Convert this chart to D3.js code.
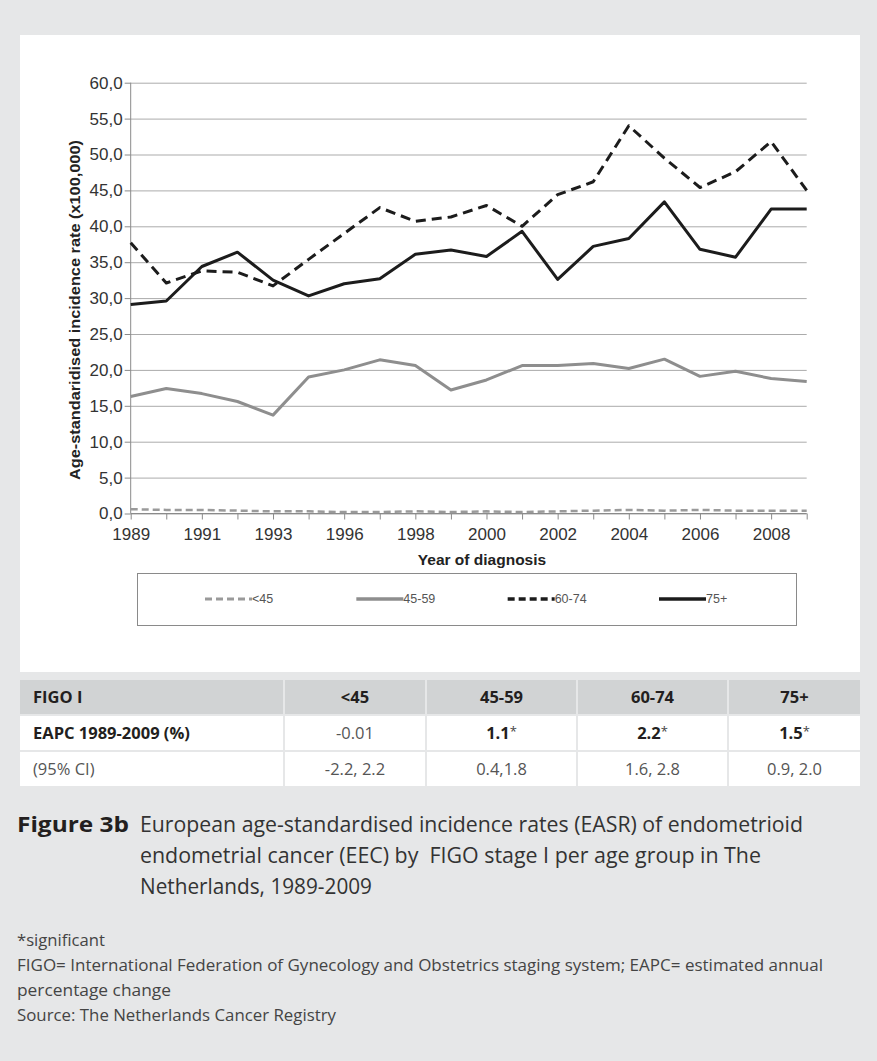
<!DOCTYPE html>
<html>
<head>
<meta charset="utf-8">
<script src="https://cdn.jsdelivr.net/npm/d3@7"></script>
<style>
  body { margin: 0; background: #e6e7e8; }
  svg { display: block; }
  .axis path { display: none; }
  .axis line { stroke: #8a8a8a; }
  .grid line { stroke: #ababab; }
  .grid path { display: none; }
</style>
</head>
<body>
<div id="chart"></div>
<script>
// data
var years = ["1989", "1990", "1991", "1992", "1993", "1994", "1996", "1997", "1998", "1999",
             "2000", "2001", "2002", "2003", "2004", "2005", "2006", "2007", "2008", "2009"];
var under45 = [0.6, 0.5, 0.5, 0.4, 0.3, 0.3, 0.2, 0.2, 0.3, 0.2, 0.3, 0.2, 0.3, 0.4, 0.5, 0.4, 0.5, 0.4, 0.4, 0.4];
var age4559 = [16.3, 17.4, 16.7, 15.6, 13.7, 19.0, 20.0, 21.4, 20.6, 17.2, 18.6, 20.6, 20.6, 20.9, 20.2, 21.5, 19.1, 19.8, 18.8, 18.4];
var age6074 = [37.7, 32.1, 33.8, 33.6, 31.7, 35.4, 39.0, 42.6, 40.7, 41.3, 42.9, 40.0, 44.4, 46.2, 54.0, 49.5, 45.4, 47.6, 51.8, 45.0];
var age75 = [29.1, 29.6, 34.4, 36.4, 32.5, 30.3, 32.0, 32.7, 36.1, 36.7, 35.8, 39.3, 32.6, 37.2, 38.3, 43.4, 36.8, 35.7, 42.4, 42.4];
var seriesNames = ["<45", "45-59", "60-74", "75+"];
var yTicks = [0, 5, 10, 15, 20, 25, 30, 35, 40, 45, 50, 55, 60];

var tableHead = ["FIGO I", "<45", "45-59", "60-74", "75+"];
var eapcLabel = "EAPC 1989-2009 (%)";
var eapc = ["-0.01", "1.1", "2.2", "1.5"];
var eapcSignificant = [false, true, true, true];
var ciLabel = "(95% CI)";
var ci = ["-2.2, 2.2", "0.4,1.8", "1.6, 2.8", "0.9, 2.0"];

var captionHead = "Figure 3b";
var captionLines = [
  "European age-standardised incidence rates (EASR) of endometrioid",
  "endometrial cancer (EEC) by  FIGO stage I per age group in The",
  "Netherlands, 1989-2009"
];
var notes = [
  "*significant",
  "FIGO= International Federation of Gynecology and Obstetrics staging system; EAPC= estimated annual",
  "percentage change",
  "Source: The Netherlands Cancer Registry"
];

var width = 877, height = 1061;
var plot = { left: 130.7, right: 806.7, top: 82.7, bottom: 513.5 };

var svg = d3.select("#chart").append("svg")
  .attr("width", width)
  .attr("height", height);

svg.append("rect").attr("width", width).attr("height", height).attr("fill", "#e6e7e8");
svg.append("rect").attr("x", 20).attr("y", 35).attr("width", 840).attr("height", 637).attr("fill", "#fff");

var x = d3.scalePoint().domain(years).range([plot.left, plot.right]);
var y = d3.scaleLinear().domain([0, 60]).range([plot.bottom, plot.top]);

// gridlines
svg.append("g")
  .attr("class", "grid")
  .attr("transform", "translate(" + plot.left + ",0)")
  .call(d3.axisLeft(y).tickValues(yTicks).tickSize(-(plot.right - plot.left)).tickFormat(""));

// y axis
var fmt = function(d) { return d3.format(".1f")(d).replace(".", ","); };
var yAxis = svg.append("g")
  .attr("class", "axis")
  .attr("transform", "translate(" + plot.left + ",0)")
  .call(d3.axisLeft(y).tickValues(yTicks).tickSize(6).tickPadding(2).tickFormat(fmt));
yAxis.selectAll("text")
  .attr("font-family", "Liberation Sans, Arial, sans-serif")
  .attr("font-size", 17)
  .attr("fill", "#333");

svg.append("line")
  .attr("x1", plot.left).attr("x2", plot.left)
  .attr("y1", plot.top).attr("y2", plot.bottom)
  .attr("stroke", "#8a8a8a");

// x axis
var xAxis = svg.append("g")
  .attr("class", "axis")
  .attr("transform", "translate(0," + plot.bottom + ")")
  .call(d3.axisBottom(x).tickSize(6)
    .tickFormat(function(d, i) { return i % 2 === 0 ? d : ""; }));
xAxis.selectAll("text")
  .attr("y", 14)
  .attr("font-family", "Liberation Sans, Arial, sans-serif")
  .attr("font-size", 17)
  .attr("fill", "#333");

svg.append("line")
  .attr("x1", plot.left).attr("x2", plot.right)
  .attr("y1", plot.bottom).attr("y2", plot.bottom)
  .attr("stroke", "#8a8a8a");

// titles
svg.append("text")
  .attr("transform", "translate(80," + ((plot.top + plot.bottom) / 2 + 12) + ") rotate(-90)")
  .attr("text-anchor", "middle")
  .attr("font-family", "Liberation Sans, Arial, sans-serif")
  .attr("font-weight", "bold")
  .attr("font-size", 14.5)
  .attr("fill", "#222")
  .attr("textLength", 340)
  .attr("lengthAdjust", "spacingAndGlyphs")
  .text("Age-standaridised incidence rate (x100,000)");

svg.append("text")
  .attr("x", 482).attr("y", 565)
  .attr("text-anchor", "middle")
  .attr("font-family", "Liberation Sans, Arial, sans-serif")
  .attr("font-weight", "bold")
  .attr("font-size", 15.5)
  .attr("fill", "#222")
  .text("Year of diagnosis");

// series
var series = [
  { name: seriesNames[0], values: under45, color: "#9a9a9a", width: 2.5, dash: "7,4" },
  { name: seriesNames[1], values: age4559, color: "#8e8e8e", width: 3, dash: null },
  { name: seriesNames[2], values: age6074, color: "#1c1c1c", width: 3, dash: "10,6" },
  { name: seriesNames[3], values: age75, color: "#1c1c1c", width: 3, dash: null }
];

var line = d3.line()
  .x(function(d, i) { return x(years[i]); })
  .y(function(d) { return y(d); });

svg.selectAll("path.series")
  .data(series)
  .enter().append("path")
  .attr("class", "series")
  .attr("d", function(d) { return line(d.values); })
  .attr("fill", "none")
  .attr("stroke", function(d) { return d.color; })
  .attr("stroke-width", function(d) { return d.width; })
  .attr("stroke-dasharray", function(d) { return d.dash; })
  .attr("stroke-linejoin", "round");

// legend
svg.append("rect")
  .attr("x", 137.5).attr("y", 573.5).attr("width", 659).attr("height", 52)
  .attr("fill", "#fff").attr("stroke", "#8a8a8a");

var lx = d3.scalePoint().domain(seriesNames).range([205, 659]);
var leg = svg.selectAll("g.legend")
  .data(series)
  .enter().append("g")
  .attr("class", "legend")
  .attr("transform", function(d) { return "translate(" + lx(d.name) + ",599)"; });

leg.append("line")
  .attr("x1", 0).attr("x2", 47)
  .attr("stroke", function(d) { return d.color; })
  .attr("stroke-width", function(d) { return d.width + 0.5; })
  .attr("stroke-dasharray", function(d) { return d.dash ? "7,4" : null; });

leg.append("text")
  .attr("x", 47).attr("dy", "0.35em")
  .attr("font-family", "Liberation Sans, Arial, sans-serif")
  .attr("font-size", 12.5)
  .attr("fill", "#555")
  .text(function(d) { return d.name; });

// table
var colEdges = [20, 283, 425, 576, 727, 860];
var rowTops = [680, 716, 752];
var rowH = 34;
var tableFont = "Open Sans, sans-serif";

rowTops.forEach(function(top, r) {
  for (var c = 0; c < 5; c++) {
    svg.append("rect")
      .attr("x", colEdges[c] + (c === 0 ? 0 : 2))
      .attr("y", top)
      .attr("width", colEdges[c + 1] - colEdges[c] - (c === 0 ? 0 : 2))
      .attr("height", rowH)
      .attr("fill", r === 0 ? "#d1d3d4" : "#fff");
  }
});

function cellX(c) { return (colEdges[c] + 2 + colEdges[c + 1]) / 2; }

svg.selectAll("text.head")
  .data(tableHead)
  .enter().append("text")
  .attr("class", "head")
  .attr("x", function(d, i) { return i === 0 ? 33 : cellX(i); })
  .attr("y", rowTops[0] + rowH / 2)
  .attr("dy", "0.36em")
  .attr("text-anchor", function(d, i) { return i === 0 ? "start" : "middle"; })
  .attr("font-family", tableFont)
  .attr("font-weight", "bold")
  .attr("font-size", 16.5)
  .attr("fill", "#231f20")
  .text(function(d) { return d; });

svg.append("text")
  .attr("x", 33).attr("y", rowTops[1] + rowH / 2).attr("dy", "0.36em")
  .attr("font-family", tableFont).attr("font-weight", "bold").attr("font-size", 16.5)
  .attr("fill", "#231f20")
  .text(eapcLabel);

var eapcText = svg.selectAll("text.eapc")
  .data(eapc)
  .enter().append("text")
  .attr("class", "eapc")
  .attr("x", function(d, i) { return cellX(i + 1); })
  .attr("y", rowTops[1] + rowH / 2).attr("dy", "0.36em")
  .attr("text-anchor", "middle")
  .attr("font-family", tableFont).attr("font-size", 16.5);
eapcText.append("tspan")
  .attr("font-weight", function(d, i) { return eapcSignificant[i] ? "bold" : "normal"; })
  .attr("fill", function(d, i) { return eapcSignificant[i] ? "#231f20" : "#555"; })
  .text(function(d) { return d; });
eapcText.append("tspan")
  .attr("fill", "#444")
  .attr("font-size", 13)
  .attr("dy", "-0.2em")
  .text(function(d, i) { return eapcSignificant[i] ? "*" : ""; });

svg.append("text")
  .attr("x", 33).attr("y", rowTops[2] + rowH / 2).attr("dy", "0.36em")
  .attr("font-family", tableFont).attr("font-size", 16.5)
  .attr("fill", "#555")
  .text(ciLabel);

svg.selectAll("text.ci")
  .data(ci)
  .enter().append("text")
  .attr("class", "ci")
  .attr("x", function(d, i) { return cellX(i + 1); })
  .attr("y", rowTops[2] + rowH / 2).attr("dy", "0.36em")
  .attr("text-anchor", "middle")
  .attr("font-family", tableFont).attr("font-size", 16.5)
  .attr("fill", "#555")
  .text(function(d) { return d; });

// caption
svg.append("text")
  .attr("x", 17).attr("y", 832)
  .attr("font-family", tableFont).attr("font-weight", "bold").attr("font-size", 22)
  .attr("fill", "#231f20")
  .attr("textLength", 112).attr("lengthAdjust", "spacingAndGlyphs")
  .text(captionHead);

var capWidths = [663, 621, 232];
svg.selectAll("text.cap")
  .data(captionLines)
  .enter().append("text")
  .attr("class", "cap")
  .attr("x", 140)
  .attr("y", function(d, i) { return 832 + i * 31; })
  .attr("font-family", tableFont).attr("font-size", 21)
  .attr("fill", "#333")
  .style("white-space", "pre")
  .attr("textLength", function(d, i) { return capWidths[i]; })
  .attr("lengthAdjust", "spacingAndGlyphs")
  .text(function(d) { return d; });

var noteWidths = [88, 806, 154, 319];
svg.selectAll("text.note")
  .data(notes)
  .enter().append("text")
  .attr("class", "note")
  .attr("x", 17)
  .attr("y", function(d, i) { return 946 + i * 25; })
  .attr("font-family", tableFont).attr("font-size", 15.5)
  .attr("fill", "#444")
  .attr("textLength", function(d, i) { return noteWidths[i]; })
  .attr("lengthAdjust", "spacingAndGlyphs")
  .text(function(d) { return d; });
</script>
</body>
</html>
